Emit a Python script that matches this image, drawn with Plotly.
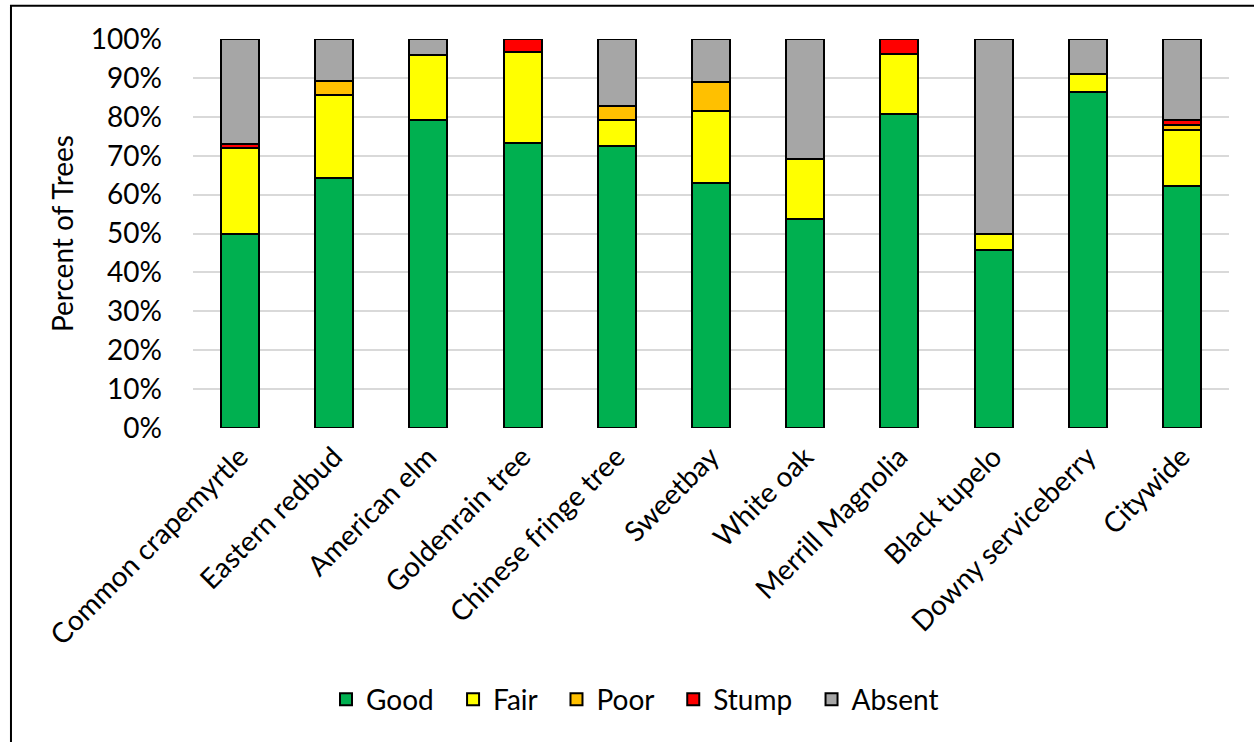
import plotly.graph_objects as go

# Tree condition by species, percent of trees in each class
species = [
    "Common crapemyrtle", "Eastern redbud", "American elm", "Goldenrain tree",
    "Chinese fringe tree", "Sweetbay", "White oak", "Merrill Magnolia",
    "Black tupelo", "Downy serviceberry", "Citywide",
]
good = [50.0, 64.3, 79.2, 73.3, 72.4, 63.0, 53.8, 80.8, 45.8, 86.4, 62.1]
fair = [22.0, 21.4, 16.7, 23.3, 6.9, 18.5, 15.4, 15.4, 4.2, 4.5, 14.6]
poor = [0.0, 3.6, 0.0, 0.0, 3.4, 7.4, 0.0, 0.0, 0.0, 0.0, 1.3]
stump = [1.0, 0.0, 0.0, 3.3, 0.0, 0.0, 0.0, 3.8, 0.0, 0.0, 1.1]
absent = [27.0, 10.7, 4.2, 0.0, 17.2, 11.1, 30.8, 0.0, 50.0, 9.1, 20.9]

y_ticks = [0, 10, 20, 30, 40, 50, 60, 70, 80, 90, 100]

series = [
    ("Good", good, "#00B050"),
    ("Fair", fair, "#FFFF00"),
    ("Poor", poor, "#FFC000"),
    ("Stump", stump, "#FF0000"),
    ("Absent", absent, "#A6A6A6"),
]

FONT = "Lato, 'Open Sans', sans-serif"
PAD = "\u00a0\u00a0"  # extra room between legend entries

fig = go.Figure()
for name, vals, color in series:
    fig.add_trace(go.Bar(
        x=species, y=vals, name=name + PAD,
        marker=dict(color=color, line=dict(color="black", width=2)),
    ))

fig.update_layout(
    width=1254, height=742,
    barmode="stack", bargap=0.597,
    paper_bgcolor="white", plot_bgcolor="white",
    font=dict(family=FONT, size=28, color="black"),
    margin=dict(l=193, r=25, t=39, b=314, autoexpand=False),
    legend=dict(
        orientation="h", x=0.4334, xanchor="center", y=-0.698, yanchor="middle",
        traceorder="normal", font=dict(size=28), itemwidth=30,
    ),
    showlegend=True,
)
fig.update_yaxes(
    range=[0, 100], tickvals=y_ticks, ticktext=[f"{v}%" for v in y_ticks],
    showgrid=True, gridcolor="#D9D9D9", gridwidth=2, zeroline=False,
    showline=False, ticks="", ticklabelstandoff=30,
    title=dict(text="Percent of Trees", font=dict(size=28), standoff=9),
)
fig.update_xaxes(
    tickangle=-45, ticks="", showline=False, showgrid=False,
    ticklabelstandoff=6,
)

# outer chart frame
fig.add_shape(
    type="rect", xref="paper", yref="paper",
    x0=-0.1757, x1=1.2, y0=1.0856, y1=-1.2,
    line=dict(color="black", width=2), fillcolor="rgba(0,0,0,0)", layer="above",
)

fig.write_html("out.html")
